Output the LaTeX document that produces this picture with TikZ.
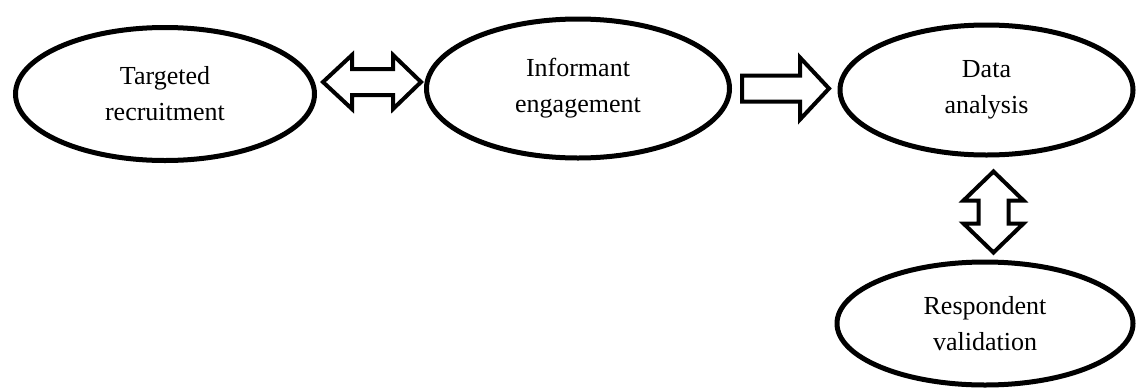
\documentclass[tikz,border=0pt]{standalone}
\usepackage{fontspec}
\setmainfont{Liberation Serif}
\usetikzlibrary{shapes.geometric}
\begin{document}
\begin{tikzpicture}[x=1pt,y=-1pt,
  stage/.style={draw=black, line width=5pt, ellipse, inner sep=0pt,
    align=center, font=\fontsize{26}{36}\selectfont},
  blockarrow/.style={draw=black, fill=white, line width=4pt, line join=miter}]
\useasboundingbox (0,0) rectangle (1136,389);

% process stages
\node[stage, minimum width=299pt, minimum height=133pt] (recruit) at (165,94) {Targeted\\recruitment};
\node[stage, minimum width=303pt, minimum height=139pt] (inform) at (578,88.5) {Informant\\engagement};
\node[stage, minimum width=293pt, minimum height=130pt] (analysis) at (986.5,90) {Data\\analysis};
\node[stage, minimum width=296pt, minimum height=123pt] (validate) at (985,323.5) {Respondent\\validation};

% anchor points of the block arrows, between the stages
\coordinate (ri) at ([xshift=6pt,yshift=12pt]recruit.east);
\coordinate (ia) at ([xshift=10pt]inform.east);
\coordinate (av) at ([xshift=7pt,yshift=-14pt]analysis.south);

% two-way arrow: recruitment <-> engagement
\draw[blockarrow] (ri) -- ++(29,-27) -- ++(0,14) -- ++(41,0) -- ++(0,-14)
  -- ++(28,27) -- ++(-28,27) -- ++(0,-14) -- ++(-41,0) -- ++(0,14) -- cycle;

% one-way arrow: engagement -> analysis
\draw[blockarrow] (ia) -- ++(0,-13) -- ++(58,0) -- ++(0,-18) -- ++(29,31)
  -- ++(-29,31) -- ++(0,-18) -- ++(-58,0) -- cycle;

% two-way arrow: analysis <-> validation
\draw[blockarrow] (av) -- ++(30,29) -- ++(-15,0) -- ++(0,23) -- ++(15,0)
  -- ++(-30,29) -- ++(-30,-29) -- ++(15,0) -- ++(0,-23) -- ++(-15,0) -- cycle;
\end{tikzpicture}
\end{document}
